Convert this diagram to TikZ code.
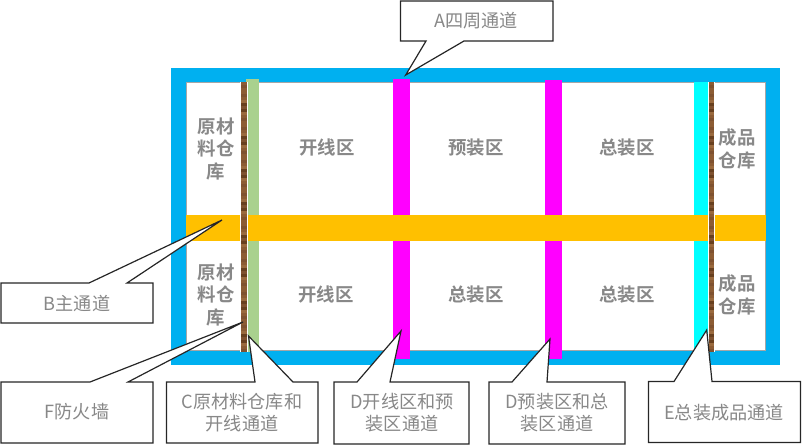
\documentclass[tikz,border=0pt]{standalone}
\usepackage{fontspec}
\setmainfont{Noto Sans CJK SC}[BoldFont={Noto Sans CJK SC Bold}]
\definecolor{skyb}{HTML}{00B0F0}
\definecolor{orng}{HTML}{FFC000}
\definecolor{leaf}{HTML}{A9D18E}
\definecolor{magn}{HTML}{FF00FF}
\definecolor{cyanb}{HTML}{00FFFF}
\definecolor{txtg}{HTML}{888888}
\definecolor{edgeg}{HTML}{A6A6A6}
\definecolor{woodA}{HTML}{7F5230}
\definecolor{woodB}{HTML}{9A6A3E}
\definecolor{woodC}{HTML}{68401F}
\definecolor{woodD}{HTML}{8C5C34}
\tikzset{
  band/.style={fill=#1,draw=none},
  roomlabel/.style={font=\bfseries\fontsize{13.8}{16.8}\selectfont,text=txtg,align=center,inner sep=0pt},
  calloutbox/.style={draw=black!85,fill=white,line width=0.9pt,line join=miter},
  calloutlabel/.style={font=\fontsize{13.6}{16.5}\selectfont,text=txtg,align=center,inner sep=0pt},
}
% wood-grain strip: x1, x2, y1, y2 (y values integer)
\newcommand{\woodstrip}[4]{%
  \fill[white] (#1-1,#3) rectangle (#2+1,#4);
  \foreach \i in {0,...,89}{%
    \pgfmathtruncatemacro{\k}{mod(mod(\i*\i,11)*3+\i*7+#3,11)}
    \ifcase\k \def\wc{woodA}\or\def\wc{woodB}\or\def\wc{woodD}\or\def\wc{woodC}\or\def\wc{woodA}\or\def\wc{woodD}\or\def\wc{woodB}\or\def\wc{woodA}\or\def\wc{woodC}\or\def\wc{woodD}\else\def\wc{woodB}\fi
    \pgfmathsetmacro{\ya}{#3+\i*3}
    \pgfmathsetmacro{\yb}{min(#3+\i*3+3.2,#4)}
    \fill[\wc] (#1,\ya) rectangle (#2,\yb);
  }%
}
% callout pointing up: name, x1, y1, x2, y2, tip x, tip y, base a, base b
\newcommand{\calloutup}[9]{%
  \coordinate (#1tip) at (#6,#7);
  \draw[calloutbox] (#2,#3) -- (#8,#3) -- (#1tip) -- (#9,#3) -- (#4,#3) -- (#4,#5) -- (#2,#5) -- cycle;
}
\begin{document}
\begin{tikzpicture}[x=0.75pt,y=-0.75pt]
\useasboundingbox (0,0) rectangle (802,446);
% outer channel
\fill[band=skyb] (171,68) rectangle (780,365);
\draw[fill=white,draw=edgeg,line width=0.75pt] (186.5,82.5) rectangle (765.5,350.5);
% vertical channels
\fill[band=magn] (393,79) rectangle (410,359);
\fill[band=magn] (545,80) rectangle (562,359);
\fill[band=cyanb] (694,82) rectangle (709,361);
\fill[band=leaf] (246,79) rectangle (259,352);
% main channel
\fill[band=orng] (186,215) rectangle (766,241);
% fire walls
\woodstrip{241}{246.5}{82}{352}
\woodstrip{709}{714}{82}{352}
% room labels
\node[roomlabel] (ra1) at (216,149) {原材\\料仓\\库};
\node[roomlabel] (ra2) at (216,295) {原材\\料仓\\库};
\node[roomlabel] (rb1) at (327,148) {开线区};
\node[roomlabel] (rb2) at (326,295) {开线区};
\node[roomlabel] (rc1) at (476,148) {预装区};
\node[roomlabel] (rc2) at (476,295) {总装区};
\node[roomlabel] (rd1) at (627,148) {总装区};
\node[roomlabel] (rd2) at (627,295) {总装区};
\node[roomlabel] (re1) at (737,149) {成品\\仓库};
\node[roomlabel] (re2) at (737,295) {成品\\仓库};
% callouts
\coordinate (atip) at (405.7,75);
\draw[calloutbox] (400.5,1) -- (553,1) -- (553,41) -- (464,41) -- (atip) -- (426,41) -- (400.5,41) -- cycle;
\node[calloutlabel] (a) at (476,21) {A四周通道};
\calloutup{b}{1}{283}{153}{323}{222}{220}{89}{127}
\node[calloutlabel] (bl) at (77,303) {B主通道};
\calloutup{f}{1}{382}{153}{443}{243}{322}{90}{128}
\node[calloutlabel] (fl) at (77,412) {F防火墙};
\calloutup{c}{166.5}{382}{318}{443}{248.5}{336}{255}{293}
\node[calloutlabel] (cl) at (242,412.5) {C原材料仓库和\\开线通道};
\calloutup{d}{334}{382}{469}{444}{401}{331}{357}{390}
\node[calloutlabel] (dl) at (402,412.5) {D开线区和预\\装区通道};
\calloutup{g}{489}{382}{625}{444}{550}{339}{512}{547}
\node[calloutlabel] (gl) at (557,412.5) {D预装区和总\\装区通道};
\calloutup{e}{648.5}{381.5}{800.5}{442.5}{706.7}{330}{674}{712}
\node[calloutlabel] (el) at (724,413) {E总装成品通道};
\end{tikzpicture}
\end{document}
